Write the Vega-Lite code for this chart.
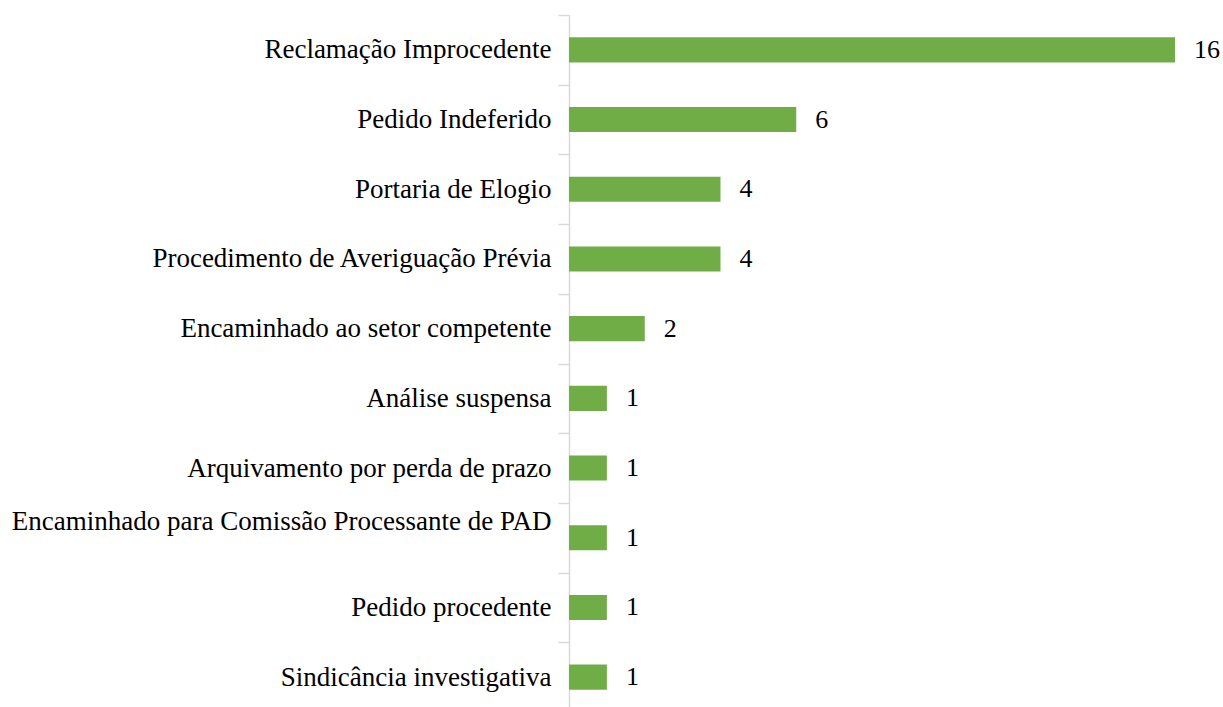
{
  "$schema": "https://vega.github.io/schema/vega-lite/v6.json",
  "autosize": "none",
  "padding": {"left": 569, "top": 15, "right": 48, "bottom": 0},
  "width": 606,
  "height": 692,
  "background": "white",
  "data": {"values": [
    {"categoria": "Reclamação Improcedente", "valor": 16},
    {"categoria": "Pedido Indeferido", "valor": 6},
    {"categoria": "Portaria de Elogio", "valor": 4},
    {"categoria": "Procedimento de Averiguação Prévia", "valor": 4},
    {"categoria": "Encaminhado ao setor competente", "valor": 2},
    {"categoria": "Análise suspensa", "valor": 1},
    {"categoria": "Arquivamento por perda de prazo", "valor": 1},
    {"categoria": "Encaminhado para Comissão Processante de PAD", "valor": 1},
    {"categoria": "Pedido procedente", "valor": 1},
    {"categoria": "Sindicância investigativa", "valor": 1}
  ]},
  "config": {
    "view": {"stroke": null},
    "font": "Liberation Serif"
  },
  "encoding": {
    "y": {
      "field": "categoria",
      "type": "nominal",
      "sort": null,
      "scale": {"paddingInner": 0, "paddingOuter": 0, "range": [0, 697]},
      "axis": {
        "title": null,
        "tickBand": "extent",
        "domainColor": "#d9d9d9",
        "domainWidth": 1.5,
        "tickColor": "#d9d9d9",
        "tickWidth": 1.5,
        "tickSize": 11,
        "labelPadding": 7,
        "labelFont": "Liberation Serif",
        "labelFontSize": 27,
        "labelColor": "#000000",
        "labelLimit": 0,
        "labelOffset": {"condition": {"test": "datum.value == 'Encaminhado para Comissão Processante de PAD'", "value": -16}, "value": 0}
      }
    },
    "x": {
      "field": "valor",
      "type": "quantitative",
      "scale": {"domain": [0, 16]},
      "axis": null
    }
  },
  "layer": [
    {
      "mark": {"type": "bar", "color": "#70AD47", "height": {"band": 0.36}}
    },
    {
      "mark": {"type": "text", "align": "left", "baseline": "middle", "dx": 19, "fontSize": 26, "font": "Liberation Serif", "color": "#000000"},
      "encoding": {"text": {"field": "valor", "type": "quantitative"}}
    }
  ]
}
